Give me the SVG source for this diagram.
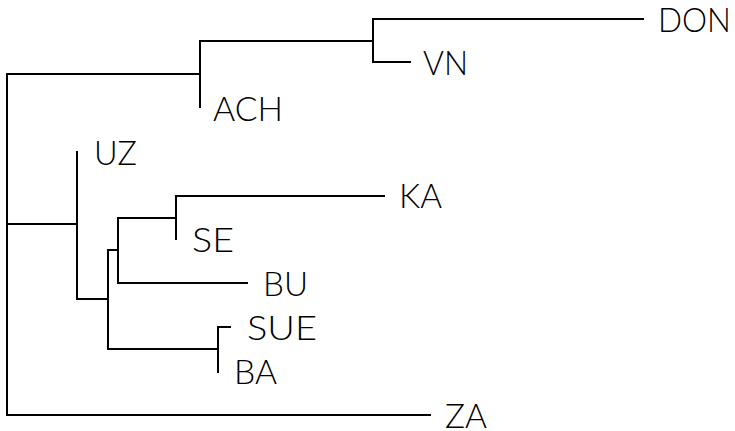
<svg xmlns="http://www.w3.org/2000/svg" width="735" height="431" viewBox="0 0 735 431">
<style>
.e{fill:none;stroke:#000;stroke-width:2;stroke-linecap:square}
.t{font-family:Lato,"Liberation Sans",sans-serif;font-weight:300;font-size:34px;fill:#000}
</style>
<rect width="735" height="431" fill="#fff"/>
<g id="connectors">
<path class="e" d="M7,74V415H430"/>
<path class="e" d="M7,74H200M7,224H77"/>
<path class="e" d="M200,41V107M200,41H373"/>
<path class="e" d="M373,19V62M373,19H643M373,62H410"/>
<path class="e" d="M77,152V299H108"/>
<path class="e" d="M108,250V349M108,250H118M108,349H218"/>
<path class="e" d="M118,218V283H247M118,218H176"/>
<path class="e" d="M176,196V239M176,196H384"/>
<path class="e" d="M218,327V372M218,327H230"/>
</g>
<g id="DON"><text class="t" x="658" y="32" textLength="73" lengthAdjust="spacingAndGlyphs">DON</text></g>
<g id="VN"><text class="t" x="423" y="75" textLength="45" lengthAdjust="spacingAndGlyphs">VN</text></g>
<g id="ACH"><text class="t" x="213" y="121" textLength="70" lengthAdjust="spacingAndGlyphs">ACH</text></g>
<g id="UZ"><text class="t" x="94" y="165" textLength="43" lengthAdjust="spacingAndGlyphs">UZ</text></g>
<g id="KA"><text class="t" x="399" y="208" textLength="43" lengthAdjust="spacingAndGlyphs">KA</text></g>
<g id="SE"><text class="t" x="192" y="252" textLength="42" lengthAdjust="spacingAndGlyphs">SE</text></g>
<g id="BU"><text class="t" x="263" y="296" textLength="45" lengthAdjust="spacingAndGlyphs">BU</text></g>
<g id="SUE"><text class="t" x="247" y="340" textLength="70" lengthAdjust="spacingAndGlyphs">SUE</text></g>
<g id="BA"><text class="t" x="234" y="384" textLength="43" lengthAdjust="spacingAndGlyphs">BA</text></g>
<g id="ZA"><text class="t" x="445" y="428" textLength="42" lengthAdjust="spacingAndGlyphs">ZA</text></g>
</svg>
